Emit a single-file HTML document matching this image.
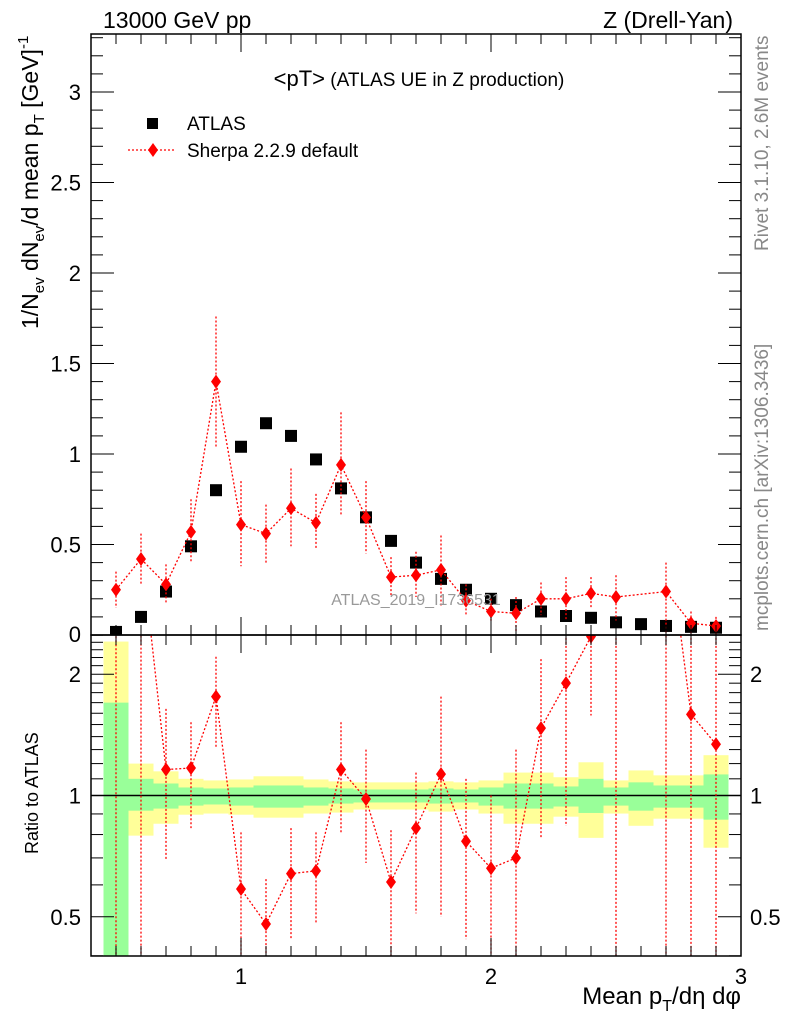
<!DOCTYPE html>
<html><head><meta charset="utf-8"><style>
html,body{margin:0;padding:0;background:#fff}
svg{display:block;font-family:"Liberation Sans",sans-serif}
</style></head><body>
<svg id="chart" width="786" height="1024" viewBox="0 0 786 1024" xmlns="http://www.w3.org/2000/svg">
<g id="bands"></g>
<g id="marks"></g>
<g id="axes"></g>
<text x="103" y="28" font-size="23">13000 GeV pp</text>
<text x="733" y="28" font-size="23" text-anchor="end">Z (Drell-Yan)</text>
<text x="419" y="86" text-anchor="middle"><tspan font-size="22">&lt;pT&gt;</tspan><tspan font-size="19"> (ATLAS UE in Z production)</tspan></text>
<g>
<rect x="147" y="118" width="11" height="11" fill="#000"/>
<text x="187" y="130" font-size="19">ATLAS</text>
<line x1="128" y1="150" x2="176" y2="150" stroke="red" stroke-dasharray="2,2" stroke-width="1.2"/>
<polygon points="153,143 158,150 153,157 148,150" fill="red"/>
<text x="187" y="157" font-size="19">Sherpa 2.2.9 default</text>
</g>
<text x="416" y="605" font-size="16" fill="#999" text-anchor="middle">ATLAS_2019_I1736531</text>
<text transform="translate(768,251) rotate(-90)" font-size="19" fill="#888">Rivet 3.1.10,  2.6M events</text>
<text transform="translate(768,631) rotate(-90)" font-size="19" fill="#888">mcplots.cern.ch [arXiv:1306.3436]</text>
<text transform="translate(38,329) rotate(-90)" font-size="23">1/N<tspan font-size="15" dy="6">ev</tspan><tspan dy="-6"> dN</tspan><tspan font-size="15" dy="6">ev</tspan><tspan dy="-6">/d mean p</tspan><tspan font-size="15" dy="6">T</tspan><tspan dy="-6">  [GeV]</tspan><tspan font-size="15" dy="-10">-1</tspan></text>
<text transform="translate(38,854) rotate(-90)" font-size="18">Ratio to ATLAS</text>
<text x="741" y="1004" font-size="24" text-anchor="end">Mean p<tspan font-size="16" dy="7">T</tspan><tspan dy="-7">/dη dφ</tspan></text>
</svg>
<script>
const xs = [0.5,0.6,0.7,0.8,0.9,1.0,1.1,1.2,1.3,1.4,1.5,1.6,1.7,1.8,1.9,2.0,2.1,2.2,2.3,2.4,2.5,2.6,2.7,2.8,2.9];
const atlas = [0.017,0.10,0.24,0.49,0.80,1.04,1.17,1.10,0.97,0.81,0.65,0.52,0.40,0.31,0.25,0.20,0.165,0.13,0.105,0.095,0.07,0.06,0.05,0.045,0.04];
const sherpa = [0.25,0.42,0.28,0.57,1.40,0.61,0.56,0.70,0.62,0.94,0.65,0.32,0.33,0.36,0.19,0.13,0.12,0.20,0.20,0.23,0.21,null,0.24,0.065,0.05];
const sherpaHi = [0.35,0.56,0.39,0.75,1.76,0.85,0.72,0.92,0.78,1.23,0.85,0.43,0.46,0.55,0.28,0.20,0.21,0.29,0.32,0.32,0.33,null,0.40,0.13,0.10];
const sherpaLo = [0.15,0.28,0.17,0.40,1.04,0.38,0.40,0.49,0.47,0.66,0.45,0.21,0.21,0.16,0.11,0.07,0.02,0.11,0.08,0.15,0.08,null,0,0,0];
const ratio = [15,4.2,1.16,1.17,1.76,0.586,0.48,0.64,0.65,1.16,0.98,0.61,0.83,1.13,0.77,0.66,0.70,1.47,1.90,2.48,3.0,null,4.8,1.59,1.34];
const ratioHi = [30,8,1.64,1.52,2.21,0.81,0.62,0.83,0.81,1.52,1.30,0.82,1.14,1.76,1.10,1.0,1.30,2.18,5,5,5,null,8,5,5];
const ratioLo = [0.3,0.3,0.69,0.83,1.31,0.3,0.3,0.44,0.48,0.81,0.68,0.3,0.51,0.50,0.44,0.3,0.3,0.78,0.84,1.58,0.3,null,0.3,0.3,0.3];
const yellowHi = [2.41,1.20,1.148,1.10,1.09,1.096,1.116,1.116,1.096,1.084,1.078,1.078,1.078,1.084,1.078,1.09,1.14,1.14,1.11,1.209,1.09,1.154,1.122,1.122,1.259];
const yellowLo = [0.3,0.795,0.851,0.896,0.902,0.896,0.881,0.881,0.902,0.907,0.923,0.923,0.923,0.912,0.923,0.902,0.851,0.851,0.886,0.785,0.902,0.841,0.876,0.876,0.742];
const greenHi = [1.70,1.10,1.071,1.047,1.041,1.047,1.059,1.059,1.047,1.041,1.035,1.035,1.035,1.041,1.035,1.047,1.071,1.071,1.053,1.10,1.047,1.078,1.059,1.059,1.128];
const greenLo = [0.3,0.917,0.928,0.944,0.950,0.944,0.933,0.933,0.944,0.955,0.961,0.961,0.961,0.955,0.961,0.944,0.928,0.928,0.939,0.905,0.944,0.917,0.933,0.933,0.871];
const mainYTicks = ["0.5","1","1.5","2","2.5","3"];
const ratioYTicks = ["0.5","1","2"];
const xTicks = ["1","2","3"];

const NS="http://www.w3.org/2000/svg";
const L=91,R=741,T=34,MB=635,RB=956;
const X=v=>L+(v-0.4)/2.6*(R-L);
const Y=v=>MB-v*181;
const YR=v=>795.5-121.3*Math.log2(v);
const clampR=y=>Math.max(MB,Math.min(RB,y));
function mk(tag,attrs,parent){const e=document.createElementNS(NS,tag);for(const k in attrs)e.setAttribute(k,attrs[k]);parent.appendChild(e);return e;}
const bands=document.getElementById('bands'),marks=document.getElementById('marks'),axes=document.getElementById('axes');

xs.forEach((x,i)=>{
  const x0=X(x-0.05),x1=X(x+0.05);
  const y1=clampR(YR(yellowHi[i])),y2=clampR(YR(yellowLo[i]));
  const r1=mk('rect',{x:x0,y:y1,width:x1-x0,height:y2-y1,fill:'#ffff99'},bands);
  
  
  const g1=clampR(YR(greenHi[i])),g2=clampR(YR(greenLo[i]));
  const r2=mk('rect',{x:x0,y:g1,width:x1-x0,height:g2-g1,fill:'#99ff99'},bands);
  
  
});
const one=mk('line',{x1:L,x2:R,y1:YR(1),y2:YR(1),stroke:'#000','stroke-width':1.5},bands);



const defs=mk('defs',{},marks);
const c1=mk('clipPath',{id:'cm'},defs);mk('rect',{x:L,y:T,width:R-L,height:MB-T},c1);
const c2=mk('clipPath',{id:'cr'},defs);mk('rect',{x:L,y:MB,width:R-L,height:RB-MB},c2);
const gm=mk('g',{'clip-path':'url(#cm)'},marks);
const gr=mk('g',{'clip-path':'url(#cr)'},marks);
const ds={stroke:'red','stroke-width':1.3,'stroke-dasharray':'2,2',fill:'none'};
function diamond(g,cx,cy,name){const p=mk('polygon',{points:`${cx},${cy-7} ${cx+5},${cy} ${cx},${cy+7} ${cx-5},${cy}`,fill:'red'},g);}

xs.forEach((x,i)=>{
  const s=mk('rect',{x:X(x)-6,y:Y(atlas[i])-6,width:12,height:12,fill:'#000'},gm);
  
  
});
let pts=[];xs.forEach((x,i)=>{if(sherpa[i]!=null)pts.push(X(x)+','+Y(sherpa[i]));});
const pl=mk('polyline',Object.assign({points:pts.join(' ')},ds),gm);


xs.forEach((x,i)=>{
  if(sherpa[i]==null)return;
  const e=mk('line',Object.assign({x1:X(x),x2:X(x),y1:Y(sherpaHi[i]),y2:Y(sherpaLo[i])},ds),gm);
  
  
  diamond(gm,X(x),Y(sherpa[i]),'sherpa-point');
});
pts=[];xs.forEach((x,i)=>{if(ratio[i]!=null)pts.push(X(x)+','+YR(ratio[i]));});
const rl=mk('polyline',Object.assign({points:pts.join(' ')},ds),gr);


xs.forEach((x,i)=>{
  if(ratio[i]==null)return;
  const e=mk('line',Object.assign({x1:X(x),x2:X(x),y1:YR(ratioHi[i]),y2:YR(ratioLo[i])},ds),gr);
  
  
  diamond(gr,X(x),YR(ratio[i]),'ratio-point');
});

[[T,MB],[MB,RB]].forEach(([a,b],k)=>{
  const f=mk('rect',{x:L,y:a,width:R-L,height:b-a,fill:'none',stroke:'#000','stroke-width':1.5},axes);
  
  
});
function tk(x1,y1,x2,y2){mk('line',{x1,y1,x2,y2,stroke:'#000','stroke-width':1},axes);}
for(let v=0.5;v<3.0001;v+=0.1){
  const x=X(v),maj=Math.abs(v-Math.round(v))<1e-6,len=maj?18:10;
  tk(x,T,x,T+len);tk(x,MB,x,MB-len);tk(x,MB,x,MB+len);tk(x,RB,x,RB-len);
}
xTicks.forEach(t=>{const e=mk('text',{x:X(+t),y:984,'font-size':22,'text-anchor':'middle'},axes);e.textContent=t;
  });
for(let k=1;k<=33;k++){const v=k/10,y=Y(v),maj=k%5==0,len=maj?23:12;tk(L,y,L+len,y);tk(R,y,R-len,y);}
mainYTicks.forEach(t=>{const e=mk('text',{x:81,y:Y(+t)+8,'font-size':22,'text-anchor':'end'},axes);e.textContent=t;
  });
const z=mk('text',{x:81,y:642,'font-size':22,'text-anchor':'end'},axes);z.textContent='0';

[0.4,0.5,0.6,0.7,0.8,0.9,1,1.1,1.2,1.3,1.4,1.5,1.6,1.7,1.8,1.9,2,2.1,2.2,2.3,2.4,2.5].forEach(v=>{
  const y=YR(v);if(y<MB||y>RB)return;const maj=(v==0.5||v==1||v==2),len=maj?23:12;tk(L,y,L+len,y);tk(R,y,R-len,y);});
ratioYTicks.forEach(t=>{
  const e=mk('text',{x:81,y:YR(+t)+8,'font-size':22,'text-anchor':'end'},axes);e.textContent=t;
  
  const e2=mk('text',{x:750,y:YR(+t)+8,'font-size':22},axes);e2.textContent=t;
  
});
</script>
</body></html>
